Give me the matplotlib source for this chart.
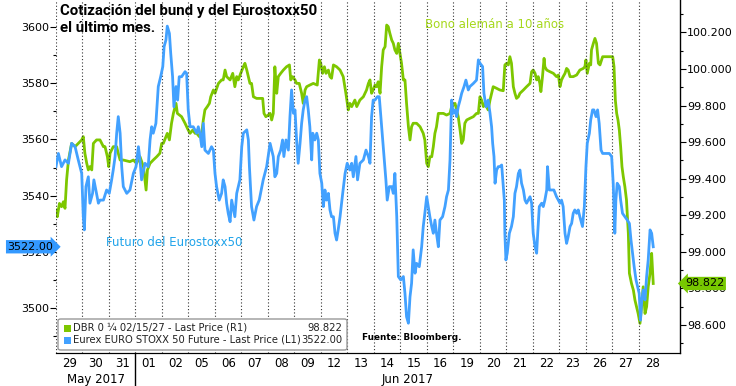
import numpy as np
import matplotlib
matplotlib.use("Agg")
import matplotlib.pyplot as plt
from matplotlib.patches import FancyBboxPatch, Rectangle
from matplotlib.ticker import MultipleLocator, FormatStrFormatter

# trading days shown on the x axis (one slot per day)
day_labels = ["29", "30", "31", "01", "02", "05", "06", "07", "08", "09", "12", "13",
              "14", "15", "16", "19", "20", "21", "22", "23", "26", "27", "28"]
months = ["May 2017", "Jun 2017"]
month_start = [0, 3]

# Eurex EURO STOXX 50 future (left axis); time in trading days since 29 May
stoxx_t = [0.00, 0.09, 0.21, 0.34, 0.47, 0.59, 0.72, 0.84, 0.97, 1.03, 1.07, 1.13, 1.22, 1.28,
           1.38, 1.43, 1.53, 1.60, 1.66, 1.79, 1.91, 2.01, 2.10, 2.16, 2.23, 2.29, 2.35, 2.42,
           2.48, 2.54, 2.67, 2.79, 2.92, 3.02, 3.11, 3.17, 3.23, 3.36, 3.48, 3.55, 3.61, 3.67,
           3.77, 3.86, 3.95, 4.03, 4.08, 4.15, 4.20, 4.28, 4.33, 4.40, 4.45, 4.53, 4.59, 4.65,
           4.74, 4.87, 4.93, 4.99, 5.06, 5.18, 5.31, 5.37, 5.43, 5.50, 5.56, 5.62, 5.75, 5.87,
           5.94, 6.00, 6.06, 6.16, 6.25, 6.31, 6.38, 6.44, 6.50, 6.57, 6.63, 6.75, 6.82, 6.94,
           7.01, 7.07, 7.20, 7.26, 7.30, 7.38, 7.47, 7.57, 7.67, 7.82, 7.95, 8.08, 8.20, 8.26,
           8.33, 8.39, 8.48, 8.55, 8.60, 8.68, 8.77, 8.83, 8.89, 8.96, 9.02, 9.08, 9.14, 9.21,
           9.27, 9.33, 9.40, 9.46, 9.52, 9.58, 9.65, 9.69, 9.77, 9.84, 9.90, 9.96, 10.03, 10.09,
           10.15, 10.21, 10.28, 10.34, 10.40, 10.47, 10.53, 10.59, 10.65, 10.72, 10.82, 10.91,
           10.99, 11.09, 11.16, 11.22, 11.32, 11.38, 11.47, 11.60, 11.70, 11.79, 11.85, 11.91,
           11.97, 12.04, 12.13, 12.20, 12.29, 12.38, 12.45, 12.50, 12.58, 12.67, 12.73, 12.79,
           12.86, 12.92, 13.01, 13.11, 13.17, 13.23, 13.30, 13.36, 13.42, 13.48, 13.55, 13.61,
           13.71, 13.80, 13.86, 13.92, 13.99, 14.05, 14.11, 14.18, 14.24, 14.30, 14.36, 14.43,
           14.49, 14.59, 14.68, 14.74, 14.81, 14.87, 14.93, 14.99, 15.06, 15.12, 15.18, 15.25,
           15.31, 15.40, 15.47, 15.56, 15.62, 15.75, 15.87, 15.94, 16.00, 16.10, 16.15, 16.23,
           16.31, 16.38, 16.44, 16.48, 16.53, 16.57, 16.63, 16.69, 16.75, 16.82, 16.88, 16.92,
           16.94, 16.98, 17.03, 17.11, 17.19, 17.26, 17.32, 17.38, 17.45, 17.51, 17.57, 17.64,
           17.70, 17.76, 17.82, 17.89, 17.95, 18.01, 18.08, 18.14, 18.18, 18.24, 18.33, 18.39,
           18.45, 18.52, 18.55, 18.62, 18.70, 18.79, 18.89, 18.96, 19.02, 19.08, 19.14, 19.21,
           19.27, 19.33, 19.40, 19.46, 19.52, 19.58, 19.65, 19.71, 19.77, 19.87, 19.94, 20.00,
           20.05, 20.13, 20.18, 20.25, 20.30, 20.38, 20.44, 20.50, 20.57, 20.63, 20.72, 20.81,
           20.88, 20.97, 21.03, 21.09, 21.13, 21.18, 21.26, 21.31, 21.38, 21.47, 21.56, 21.64,
           21.70, 21.76, 21.82, 21.89, 21.95, 22.01, 22.06, 22.10, 22.16, 22.23, 22.29, 22.35,
           22.42, 22.48, 22.54]
stoxx = [3550.3, 3555.0, 3550.3, 3552.7, 3551.5, 3558.6, 3557.4, 3552.7, 3547.9, 3532.5, 3527.8,
         3543.2, 3546.7, 3537.3, 3540.8, 3545.6, 3540.8, 3537.3, 3538.4, 3538.4, 3542.0, 3540.8,
         3545.6, 3549.1, 3553.9, 3562.2, 3568.1, 3562.2, 3550.3, 3543.2, 3540.8, 3542.0, 3547.9,
         3550.3, 3557.4, 3552.7, 3545.6, 3551.5, 3550.3, 3559.8, 3564.5, 3562.2, 3565.7, 3578.8,
         3582.3, 3585.9, 3593.0, 3595.4, 3600.3, 3597.7, 3590.6, 3582.3, 3571.6, 3578.8, 3574.0,
         3582.3, 3582.3, 3584.1, 3583.5, 3570.5, 3564.5, 3564.5, 3562.2, 3564.5, 3562.2, 3557.4,
         3565.7, 3556.2, 3555.0, 3557.4, 3556.2, 3547.9, 3543.2, 3538.4, 3540.8, 3545.6, 3543.2,
         3537.3, 3533.7, 3530.7, 3538.4, 3532.5, 3540.8, 3545.6, 3557.4, 3562.2, 3563.4, 3559.8,
         3550.3, 3536.1, 3531.3, 3536.1, 3538.4, 3545.6, 3550.3, 3558.6, 3553.9, 3546.7, 3547.9,
         3553.9, 3556.2, 3559.8, 3553.9, 3559.8, 3556.2, 3568.1, 3577.6, 3569.3, 3570.5, 3559.8,
         3551.5, 3558.6, 3565.7, 3570.5, 3574.0, 3575.2, 3570.5, 3564.5, 3552.7, 3562.2, 3559.8,
         3562.2, 3559.8, 3547.9, 3544.4, 3536.1, 3542.0, 3538.4, 3540.8, 3534.9, 3532.5, 3532.5,
         3526.6, 3524.2, 3527.8, 3532.5, 3540.8, 3547.9, 3551.5, 3549.1, 3551.5, 3546.7, 3553.9,
         3545.6, 3551.5, 3552.7, 3556.2, 3553.9, 3551.5, 3568.1, 3574.0, 3574.0, 3575.2, 3575.2,
         3564.5, 3553.9, 3545.6, 3538.4, 3543.2, 3543.2, 3540.8, 3547.9, 3532.5, 3511.2, 3510.0,
         3511.2, 3505.2, 3496.9, 3494.6, 3504.0, 3508.8, 3520.7, 3512.4, 3515.9, 3514.7, 3521.8,
         3529.0, 3533.7, 3539.6, 3536.1, 3532.5, 3529.0, 3526.6, 3531.3, 3526.6, 3521.8, 3531.3,
         3532.5, 3536.1, 3539.6, 3542.0, 3552.7, 3574.0, 3569.3, 3570.5, 3568.1, 3571.6, 3574.0,
         3576.4, 3578.8, 3581.1, 3577.6, 3578.8, 3579.9, 3581.1, 3588.3, 3587.1, 3585.9, 3576.4,
         3571.6, 3574.0, 3569.3, 3564.5, 3558.6, 3553.9, 3544.4, 3549.1, 3550.3, 3550.3, 3550.9,
         3543.2, 3538.4, 3526.6, 3517.1, 3519.5, 3526.6, 3529.0, 3532.5, 3540.8, 3543.2, 3547.9,
         3549.1, 3544.4, 3542.0, 3538.4, 3537.3, 3538.4, 3539.6, 3537.3, 3526.6, 3521.8, 3519.5,
         3526.6, 3536.1, 3537.3, 3536.1, 3538.4, 3542.0, 3550.3, 3542.0, 3542.0, 3542.0, 3539.6,
         3538.4, 3537.3, 3538.4, 3536.1, 3526.6, 3523.0, 3525.4, 3529.0, 3530.1, 3533.7, 3534.9,
         3533.7, 3534.9, 3532.5, 3529.0, 3536.1, 3550.3, 3558.6, 3562.2, 3566.9, 3570.5, 3570.5,
         3568.1, 3570.5, 3565.7, 3556.2, 3555.0, 3555.0, 3555.0, 3555.0, 3553.9, 3544.4, 3526.6,
         3538.4, 3544.4, 3543.2, 3538.4, 3533.7, 3532.5, 3531.3, 3530.1, 3524.2, 3519.5, 3514.7,
         3510.0, 3507.6, 3505.2, 3495.7, 3501.7, 3506.4, 3502.9, 3511.2, 3517.1, 3527.8, 3526.6,
         3521.8]

# DBR 0 1/4 02/15/27 price (right axis)
bund_t = [0.00, 0.05, 0.13, 0.21, 0.28, 0.34, 0.40, 0.47, 0.59, 0.72, 0.84, 0.97, 1.03, 1.09,
          1.16, 1.22, 1.28, 1.35, 1.41, 1.53, 1.66, 1.79, 1.85, 1.94, 1.99, 2.04, 2.16, 2.29,
          2.35, 2.42, 2.54, 2.79, 2.92, 3.04, 3.17, 3.30, 3.40, 3.45, 3.55, 3.67, 3.80, 3.92,
          3.99, 4.05, 4.15, 4.20, 4.28, 4.36, 4.43, 4.53, 4.58, 4.74, 4.87, 4.99, 5.06, 5.16,
          5.25, 5.31, 5.41, 5.50, 5.56, 5.62, 5.71, 5.79, 5.84, 5.94, 6.00, 6.13, 6.25, 6.31,
          6.38, 6.44, 6.57, 6.67, 6.75, 6.82, 6.88, 6.97, 7.07, 7.13, 7.20, 7.26, 7.32, 7.38,
          7.45, 7.57, 7.80, 7.85, 7.92, 8.01, 8.08, 8.14, 8.20, 8.26, 8.33, 8.39, 8.48, 8.58,
          8.70, 8.81, 8.86, 8.93, 9.02, 9.08, 9.18, 9.27, 9.33, 9.40, 9.46, 9.58, 9.71, 9.86,
          9.94, 9.99, 10.06, 10.13, 10.19, 10.28, 10.34, 10.40, 10.47, 10.59, 10.72, 10.84,
          10.94, 11.03, 11.09, 11.16, 11.28, 11.35, 11.41, 11.47, 11.60, 11.72, 11.79, 11.85,
          11.91, 11.97, 12.04, 12.10, 12.16, 12.23, 12.29, 12.35, 12.42, 12.48, 12.54, 12.60,
          12.67, 12.73, 12.79, 12.86, 12.92, 12.98, 13.04, 13.11, 13.17, 13.23, 13.30, 13.36,
          13.42, 13.48, 13.61, 13.74, 13.86, 13.92, 13.99, 14.05, 14.11, 14.18, 14.24, 14.30,
          14.36, 14.43, 14.49, 14.62, 14.74, 14.87, 14.93, 14.99, 15.06, 15.12, 15.18, 15.25,
          15.31, 15.37, 15.43, 15.50, 15.62, 15.75, 15.87, 15.94, 16.00, 16.06, 16.13, 16.19,
          16.25, 16.31, 16.38, 16.44, 16.50, 16.63, 16.75, 16.88, 16.94, 17.01, 17.07, 17.13,
          17.19, 17.26, 17.32, 17.38, 17.45, 17.51, 17.64, 17.76, 17.89, 17.95, 18.01, 18.08,
          18.14, 18.20, 18.26, 18.30, 18.36, 18.42, 18.45, 18.52, 18.64, 18.77, 18.89, 18.96,
          19.02, 19.08, 19.14, 19.21, 19.27, 19.33, 19.40, 19.52, 19.65, 19.77, 19.90, 19.96,
          20.00, 20.05, 20.13, 20.18, 20.21, 20.28, 20.34, 20.40, 20.47, 20.53, 20.63, 20.78,
          20.91, 21.01, 21.06, 21.11, 21.16, 21.21, 21.26, 21.31, 21.36, 21.41, 21.47, 21.53,
          21.60, 21.64, 21.72, 21.79, 21.85, 21.91, 21.97, 22.04, 22.10, 22.16, 22.23, 22.29,
          22.35, 22.42, 22.48, 22.54]
bund = [99.229, 99.192, 99.265, 99.247, 99.274, 99.238, 99.393, 99.502, 99.593, 99.575, 99.593,
        99.612, 99.630, 99.539, 99.484, 99.448, 99.466, 99.448, 99.593, 99.612, 99.612, 99.575,
        99.575, 99.520, 99.466, 99.539, 99.575, 99.575, 99.539, 99.502, 99.502, 99.493, 99.502,
        99.484, 99.520, 99.466, 99.338, 99.448, 99.484, 99.502, 99.520, 99.539, 99.593, 99.593,
        99.630, 99.648, 99.612, 99.703, 99.757, 99.812, 99.757, 99.739, 99.703, 99.666, 99.648,
        99.666, 99.648, 99.648, 99.630, 99.648, 99.721, 99.776, 99.794, 99.812, 99.848, 99.885,
        99.867, 99.921, 99.940, 99.940, 99.994, 99.958, 99.940, 99.976, 99.903, 99.958, 99.940,
        99.976, 100.012, 100.031, 99.994, 99.958, 99.921, 99.921, 99.848, 99.839, 99.839, 99.757,
        99.739, 99.748, 99.757, 99.721, 99.757, 100.012, 99.867, 99.958, 99.976, 99.994, 100.012,
        100.022, 99.940, 99.958, 99.940, 99.921, 99.921, 99.867, 99.812, 99.885, 99.903, 99.912,
        99.921, 99.912, 100.049, 100.031, 99.976, 100.012, 99.976, 99.994, 99.958, 99.949,
        100.022, 100.012, 99.994, 99.958, 99.867, 99.776, 99.812, 99.794, 99.830, 99.794, 99.812,
        99.830, 99.848, 99.885, 99.921, 99.940, 99.867, 99.885, 99.912, 99.903, 99.930, 99.867,
        100.012, 100.104, 100.122, 100.240, 100.231, 100.195, 100.158, 100.140, 100.104, 100.085,
        100.140, 100.085, 100.031, 99.940, 99.940, 99.812, 99.684, 99.612, 99.684, 99.703, 99.703,
        99.684, 99.648, 99.612, 99.484, 99.466, 99.520, 99.520, 99.575, 99.648, 99.684, 99.757,
        99.757, 99.757, 99.748, 99.757, 99.794, 99.803, 99.812, 99.776, 99.739, 99.666, 99.593,
        99.612, 99.703, 99.721, 99.730, 99.739, 99.757, 99.757, 99.848, 99.830, 99.794, 99.812,
        99.794, 99.776, 99.830, 99.867, 99.903, 99.894, 99.885, 99.881, 100.022, 100.031, 100.022,
        100.067, 100.031, 99.903, 99.867, 99.839, 99.848, 99.867, 99.885, 99.903, 99.921, 99.985,
        99.994, 99.976, 99.940, 99.958, 99.921, 99.876, 99.958, 100.058, 100.012, 99.994, 99.985,
        99.976, 99.958, 99.967, 99.903, 99.940, 99.958, 99.976, 100.003, 99.994, 99.958, 99.958,
        99.967, 99.994, 100.003, 100.012, 100.049, 99.976, 100.031, 100.022, 100.104, 100.140,
        100.167, 100.140, 100.031, 100.022, 100.067, 100.067, 100.067, 100.067, 100.012, 99.830,
        99.757, 99.721, 99.666, 99.575, 99.466, 99.411, 99.356, 99.284, 99.101, 98.883, 98.827,
        98.791, 98.736, 98.700, 98.663, 98.609, 98.700, 98.809, 98.663, 98.700, 98.809, 98.883,
        98.992, 98.827]

green = "#7dc700"
blue = "#42a1ff"
n_days = len(day_labels)
W, H = 736, 386

fig = plt.figure(figsize=(W / 100, H / 100), dpi=100)
ax = fig.add_axes([56 / W, 33 / H, 624 / W, 353 / H])
ax2 = ax.twinx()

ax.plot(stoxx_t, stoxx, color=blue, lw=2.0, zorder=3)
ax2.plot(bund_t, bund, color=green, lw=2.0, zorder=3)
ax.set_zorder(ax2.get_zorder() + 1)
ax.patch.set_visible(False)

ax.set_xlim(0, 23.55)
ax.set_ylim(3484, 3609.6)
ax2.set_ylim(98.447, 100.377)

# day separators
for d in range(n_days):
    ax.axvline(d, color="#333333", lw=0.8, ls=(0, (1, 2)), zorder=1)
ax.plot([month_start[1], month_start[1]], [0, -33 / 353], color="black", lw=1,
        transform=ax.get_xaxis_transform(), clip_on=False)

ax.set_xticks(np.arange(n_days) + 0.5)
ax.set_xticklabels(day_labels)
ax.tick_params(axis="x", length=0, labelsize=8.5, pad=3)
for i, m in enumerate(months):
    end = month_start[i + 1] if i + 1 < len(months) else 23.55
    ax.text((month_start[i] + end) / 2, -26 / 353, m, transform=ax.get_xaxis_transform(),
            ha="center", va="center", fontsize=8.5)

ax.yaxis.set_major_locator(MultipleLocator(20))
ax.yaxis.set_minor_locator(MultipleLocator(10))
ax2.yaxis.set_major_locator(MultipleLocator(0.2))
ax2.yaxis.set_minor_locator(MultipleLocator(0.1))
ax2.yaxis.set_major_formatter(FormatStrFormatter("%.3f"))
for a in (ax, ax2):
    a.tick_params(axis="y", labelsize=8, length=4, width=0.8, pad=1)
    a.tick_params(axis="y", which="minor", length=2.5, width=0.8)
    a.spines["top"].set_visible(False)
    a.spines["left"].set_visible(False)
ax.spines["right"].set_visible(False)
ax2.spines["right"].set_linewidth(1)

# last value tags
ax.text(-0.004, stoxx[-1], "3522.00", transform=ax.get_yaxis_transform(), ha="right",
        va="center", fontsize=8, color="black",
        bbox=dict(boxstyle="rarrow,pad=0.15", fc="#3399ff", ec="none"), zorder=10)
ax2.text(1.008, bund[-1], "98.822", transform=ax2.get_yaxis_transform(), ha="left",
         va="center", fontsize=8, color="black",
         bbox=dict(boxstyle="larrow,pad=0.15", fc="#77c800", ec="none"), zorder=10)

# annotations
fig.text(60 / W, 1 - 4 / H, "Cotización del bund y del Eurostoxx50\nel último mes.",
         ha="left", va="top", fontsize=10.8, fontweight="bold", family="Roboto",
         linespacing=1.3)
fig.text(425 / W, 1 - 24 / H, "Bono alemán a 10 años", ha="left", va="center",
         fontsize=8.5, color="#a6d81c")
fig.text(106 / W, 1 - 242 / H, "Futuro del Eurostoxx50", ha="left", va="center",
         fontsize=8.5, color="#1fa3ea")
fig.text(362 / W, 1 - 338 / H, "Fuente: Bloomberg.", ha="left", va="center",
         fontsize=6.4, fontweight="bold")

# legend box
box = FancyBboxPatch((58 / W, 1 - 350 / H), 289 / W, 31 / H,
                     boxstyle="round,pad=0,rounding_size=0.004", transform=fig.transFigure,
                     fc="white", ec="#999999", lw=1, zorder=20)
fig.patches.append(box)
entries = [(green, "DBR 0 ¼ 02/15/27 - Last Price (R1)", "98.822"),
           (blue, "Eurex EURO STOXX 50 Future - Last Price (L1)", "3522.00")]
for i, (c, lab, val) in enumerate(entries):
    yc = 1 - (328 + 12 * i) / H
    fig.patches.append(Rectangle((64 / W, yc - 4 / H), 7 / W, 7 / H,
                                 transform=fig.transFigure, fc=c, ec="none", zorder=21))
    fig.text(73 / W, yc, lab, ha="left", va="center", fontsize=7.2, color="#222222",
             zorder=22)
    fig.text(342 / W, yc, val, ha="right", va="center", fontsize=7.2, color="#222222",
             zorder=22)

fig.savefig("out.png", dpi=100)
